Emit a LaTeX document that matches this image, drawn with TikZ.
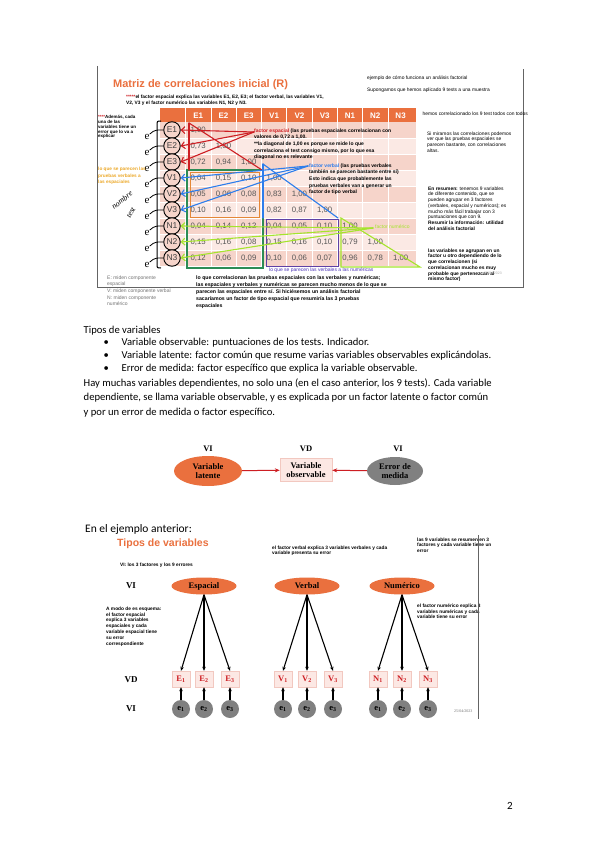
\documentclass[tikz,border=0pt]{standalone}
\usepackage{fontspec}
\setmainfont{Carlito}
\newfontfamily\slidefont{Liberation Sans}
\newfontfamily\romfont{Liberation Serif}
\usetikzlibrary{arrows.meta,shapes.geometric}
\definecolor{ember}{RGB}{234,112,62}
\definecolor{rowdark}{RGB}{246,212,202}
\definecolor{rowlight}{RGB}{251,233,228}
\definecolor{cellgray}{RGB}{85,85,85}
\definecolor{redpen}{RGB}{205,30,35}
\definecolor{bluepen}{RGB}{45,125,235}
\definecolor{limepen}{RGB}{165,228,45}
\definecolor{boxgreen}{RGB}{45,140,85}
\definecolor{boxorange}{RGB}{228,135,55}
\definecolor{boxpurple}{RGB}{95,65,165}
\definecolor{gold}{RGB}{236,168,40}
\definecolor{obsfill}{RGB}{252,232,228}
\definecolor{obsline}{RGB}{242,200,192}
\definecolor{errgray}{RGB}{128,128,128}
\definecolor{framegray}{RGB}{100,100,100}
\definecolor{notegray}{RGB}{115,115,115}
\newcommand{\slidetxt}[2]{\slidefont\fontsize{#1}{#2}\selectfont}

\begin{document}
\begin{tikzpicture}[x=1pt,y=-1pt,
  note/.style={anchor=north west,align=left,inner sep=0pt,font=\slidetxt{5}{6.6}\bfseries},
  sidenote/.style={anchor=north west,align=left,inner sep=0pt,font=\slidetxt{4.9}{5.7}},
  bodytext/.style={anchor=west,inner sep=0pt,font=\fontsize{10.6}{12}\selectfont},
  hdr/.style={text=white,font=\slidetxt{8}{8}\bfseries,inner sep=0pt},
  cell/.style={text=cellgray,font=\slidetxt{7.8}{8},inner sep=0pt},
  tcirc/.style={circle,draw=black,line width=0.9pt,fill=rowdark,minimum size=16.5pt,inner sep=0pt,font=\slidetxt{8.5}{8.5},text=darkgray},
  pen/.style={line width=1.1pt,line cap=round},
  penarr/.style={pen,-{Straight Barb[length=3.5pt]}},
  lbl/.style={font=\romfont\bfseries\fontsize{8.5}{9}\selectfont,inner sep=0pt},
  factor/.style={ellipse,fill=ember,minimum width=65pt,minimum height=17pt,inner sep=0pt,font=\romfont\bfseries\fontsize{8.5}{9}\selectfont},
  obs/.style={rectangle,draw=obsline,fill=obsfill,minimum width=18pt,minimum height=16pt,inner sep=0pt,text=redpen,font=\romfont\bfseries\fontsize{8.5}{9}\selectfont},
  err/.style={circle,fill=errgray,minimum size=18pt,inner sep=0pt,font=\romfont\bfseries\fontsize{8.5}{9}\selectfont},
  blk/.style={-{Stealth[length=4pt,width=3.5pt]},line width=1.1pt},
  redarr/.style={-{Stealth[length=5pt,width=4pt]},line width=1pt,redpen}
]
\useasboundingbox[fill=white] (0,0) rectangle (599,848);

% slide: matriz de correlaciones
\draw[framegray,line width=0.8pt] (97,66) -- (97,287) -- (523,287) -- (523,69);
\node[anchor=west,inner sep=0pt,text=ember,font=\slidetxt{11}{11}\bfseries] (title) at (113,85) {Matriz de correlaciones inicial (R)};
\node[note,font=\slidetxt{4.8}{6.5}\bfseries] (sub) at (126,94.5) {\textcolor{redpen}{*****}el factor espacial explica las variables E1, E2, E3; el factor verbal, las variables V1,\\V2, V3 y el factor numérico las variables N1, N2 y N3.};

\fill[ember] (160,108) rectangle (416,122);
\foreach \r in {1,3,5,7,9}
  \fill[rowdark] (160,106+16*\r) rectangle (416,122+16*\r);
\foreach \r in {2,4,6,8}
  \fill[rowlight] (160,106+16*\r) rectangle (416,122+16*\r);
\foreach \c in {0,...,8}
  \draw[white,line width=0.6pt] (185.5+25.3*\c,108) -- (185.5+25.3*\c,266);
\foreach \r in {1,...,8}
  \draw[white,line width=0.6pt] (160,122+16*\r) -- (416,122+16*\r);
\foreach \h [count=\c] in {E1,E2,E3,V1,V2,V3,N1,N2,N3}
  \node[hdr] at (172.9+25.3*\c,115.5) {\h};
\foreach \r in {1,...,9}
  \node[cell] at (172.9+25.3*\r,114+16*\r) {1,00};
\foreach \vals [count=\r from 2] in {{73},{72,94},{04,15,10},{05,06,08,83},{10,16,09,82,87},{04,14,12,04,05,10},{15,16,08,15,16,10,79},{12,06,09,10,06,07,96,78}}
  \foreach \v [count=\c] in \vals
    \node[cell] at (172.9+25.3*\c,114+16*\r) {0,\v};

\draw[boxgreen,line width=1.2pt] (187,170) rectangle (263,268);
\draw[boxorange,line width=1pt] (190,172) rectangle (259,217);
\draw[boxpurple,line width=1pt] (266,219) rectangle (338,266);

\draw[line width=1pt] (161,121) .. controls (157,121) .. (157,126) -- (157,264) .. controls (157,268) .. (161,268);
\foreach \n [count=\r] in {E1,E2,E3,V1,V2,V3,N1,N2,N3} {
  \node[tcirc] (c\n) at (172,114+16*\r) {\n};
  \node[inner sep=0pt,font=\romfont\fontsize{11}{11}\selectfont] (e\n) at (147,121+16*\r) {e};
  \draw[line width=0.8pt] (e\n.north east) .. controls +(5,-5) and +(-5,0) .. (c\n.west);
}
\node[inner sep=0pt,rotate=38,font=\romfont\itshape\fontsize{8}{8}\selectfont] (hand1) at (122,200) {nombre};
\node[inner sep=0pt,rotate=62,font=\romfont\itshape\fontsize{8}{8}\selectfont] (hand2) at (131,213) {test};

\coordinate (espx) at (254,132);
\foreach \n in {E1,E2,E3}
  \draw[penarr,redpen] (espx) -- (c\n.east);
\draw[pen,redpen] (189,123) -- (189,170);
\draw[pen,redpen] (189,123) -- (262,170);
\coordinate (verx) at (308,166);
\foreach \n in {V1,V2,V3}
  \draw[penarr,bluepen] (verx) -- (c\n.east);
\draw[pen,bluepen] (263,164) -- (263,218);
\draw[pen,bluepen] (263,164) -- (338,218);
\coordinate (numx) at (373,228);
\foreach \n in {N1,N2,N3}
  \draw[penarr,limepen] (numx) -- (c\n.east);
\draw[pen,limepen] (341,218) -- (341,267) -- (420,267) -- cycle;

\node[note] (espnote) at (254,128.5) {\textcolor{redpen}{factor espacial} (las pruebas espaciales correlacionan con\\valores de 0,72 a 1,00.\\**la diagonal de 1,00 es porque se mide lo que\\correlaciona el test consigo mismo, por lo que esa\\diagonal no es relevante};
\node[note] (vernote) at (309,163.5) {\textcolor{bluepen}{factor verbal} (las pruebas verbales\\también se parecen bastante entre sí)\\Esto indica que probablemente las\\pruebas verbales van a generar un\\factor de tipo verbal};
\node[anchor=west,inner sep=0pt,text=limepen,font=\slidetxt{5}{6}] (numnote) at (375,227) {factor numérico};
\node[anchor=west,inner sep=0pt,text=boxpurple!80!blue,font=\slidetxt{5}{6}] (vnnote) at (269,270) {lo que se parecen las verbales a las numéricas};

\node[note,font=\slidetxt{4.5}{4.7}\bfseries] (errnote) at (98,115.5) {\textcolor{redpen}{****}Además, cada\\una de las\\variables tiene un\\error que lo va a\\explicar};
\node[note,font=\slidetxt{4.7}{6.5}\bfseries,text=gold] (vsnote) at (98,167) {lo que se parecen las\\pruebas verbales a\\las espaciales};
\node[note,font=\slidetxt{5}{6.6},text=notegray] (legend) at (107,275.5) {E: miden componente\\espacial\\V: miden componente verbal\\N: miden componente\\numérico};
\node[note,font=\slidetxt{5.2}{7}\bfseries] (esvnote) at (196,275.5) {lo que correlacionan las pruebas espaciales con las verbales y numéricas;\\las espaciales y verbales y numéricas se parecen mucho menos de lo que se\\parecen las espaciales entre sí. Si hiciésemos un análisis factorial\\sacaríamos un factor de tipo espacial que resumiría las 3 pruebas\\espaciales};

\node[sidenote,anchor=west] (ej) at (367,78) {ejemplo de cómo funciona un análisis factorial};
\node[sidenote,anchor=west] (sup) at (367,90) {Supongamos que hemos aplicado 9 tests a una muestra};
\node[sidenote,anchor=west] (corr) at (422.5,114) {hemos correlacionado los 9 test todos con todos};
\node[sidenote] (mir) at (427,131.5) {Si miramos las correlaciones podemos\\ver que las pruebas espaciales se\\parecen bastante, con correlaciones\\altas.};
\node[sidenote] (res) at (428,186.5) {\textbf{En resumen:} tenemos 9 variables\\de diferente contenido, que se\\pueden agrupar en 3 factores\\(verbales, espacial y numéricos); es\\mucho más fácil trabajar con 3\\puntuaciones que con 9.\\\textbf{Resumir la información: utilidad}\\\textbf{del análisis factorial}};
\node[sidenote,font=\slidetxt{4.9}{5.7}\bfseries] (agr) at (428,248.5) {las variables se agrupan en un\\factor u otro dependiendo de lo\\que correlacionen (si\\correlacionan mucho es muy\\probable que pertenezcan al\\mismo factor)};
\node[anchor=west,inner sep=0pt,text=notegray!60,font=\slidetxt{3.5}{4}] (date1) at (484,273.5) {25/04/2023};

% texto
\node[bodytext] (tipos) at (83.5,331) {Tipos de variables};
\foreach \t [count=\i] in {Variable observable: puntuaciones de los tests. Indicador.,
  Variable latente: factor común que resume varias variables observables explicándolas.,
  Error de medida: factor específico que explica la variable observable.} {
  \node[bodytext] (bul\i) at (103.5,330+13*\i) {\textbullet};
  \node[bodytext] (item\i) at (121.5,330+13*\i) {\t};
}
\node[bodytext] (par1) at (83.5,383.5) {Hay muchas variables dependientes, no solo una (en el caso anterior, los 9 tests). Cada variable};
\node[bodytext] (par2) at (83.5,398) {dependiente, se llama variable observable, y es explicada por un factor latente o factor común};
\node[bodytext] (par3) at (83.5,412.5) {y por un error de medida o factor específico.};

% esquema VI - VD - VI
\node[lbl] (vil) at (208,449) {VI};
\node[lbl] (vd) at (306,449) {VD};
\node[lbl] (vir) at (398,449) {VI};
\node[factor,minimum width=68pt,minimum height=30pt,align=center] (lat) at (208,471) {Variable\\latente};
\node[obs,text=black,minimum width=52pt,minimum height=23pt,align=center] (ob) at (306,470) {Variable\\observable};
\node[factor,fill=errgray,minimum width=56pt,minimum height=28pt,align=center] (em) at (395,471) {Error de\\medida};
\draw[redarr] (lat) -- (ob);
\draw[redarr] (em) -- (ob);

% slide: tipos de variables
\node[bodytext,font=\fontsize{11.5}{13}\selectfont] (ejant) at (85,529) {En el ejemplo anterior:};
\node[anchor=west,inner sep=0pt,text=ember,font=\slidetxt{10.5}{11}\bfseries] (title2) at (117,544) {Tipos de variables};
\node[note,font=\slidetxt{4.8}{5.7}\bfseries,anchor=west] (vinote) at (120,565) {VI: los 3 factores y los 9 errores};
\node[note,font=\slidetxt{4.8}{5.8}\bfseries] (vbnote) at (272,545.5) {el factor verbal explica 3 variables verbales y cada\\variable presenta su error};
\node[note,font=\slidetxt{4.8}{5.8}\bfseries] (resnote) at (417,537.5) {las 9 variables se resumen en 3\\factores y cada variable tiene un\\error};
\node[note,font=\slidetxt{4.8}{5.8}\bfseries] (numnote2) at (417,603.5) {el factor numérico explica 3\\variables numéricas y cada\\variable tiene su error};
\node[note,font=\slidetxt{4.8}{5.9}\bfseries] (modo) at (106,606.5) {A modo de es esquema:\\el factor espacial\\explica 3 variables\\espaciales y cada\\variable espacial tiene\\su error\\correspondiente};
\draw[framegray,line width=0.8pt] (478,535) -- (478,719);
\node[anchor=west,inner sep=0pt,text=notegray,font=\romfont\fontsize{4}{4}\selectfont] (date2) at (454,711) {25/04/2023};

\node[lbl,font=\romfont\bfseries\fontsize{9}{9}\selectfont] (vi2) at (131,586) {VI};
\node[lbl,font=\romfont\bfseries\fontsize{9}{9}\selectfont] (vd2) at (131,680) {VD};
\node[lbl,font=\romfont\bfseries\fontsize{9}{9}\selectfont] (vi3) at (131,709) {VI};
\node[factor] (fE) at (204,586) {Espacial};
\node[factor] (fV) at (307,586) {Verbal};
\node[factor] (fN) at (402,586) {Numérico};
\foreach \f/\xa/\xb/\xc in {E/181/204/230,V/283/307/333,N/378/402/428} {
  \foreach \x [count=\i] in {\xa,\xb,\xc} {
    \node[obs] (\f\i) at (\x,679) {\f\textsubscript{\i}};
    \node[err] (e\f\i) at (\x,709) {e\textsubscript{\i}};
    \draw[blk] (f\f.south) -- (\f\i.north);
    \draw[blk] (e\f\i) -- (\f\i);
  }
}

\node[inner sep=0pt,font=\fontsize{11}{11}\selectfont] (pag) at (510,806) {2};
\end{tikzpicture}
\end{document}
